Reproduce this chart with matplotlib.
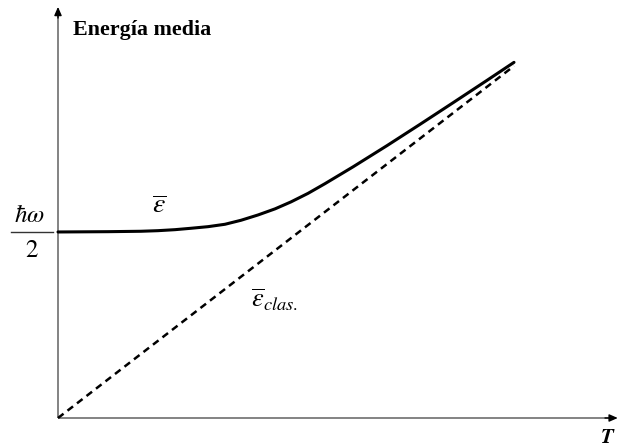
import matplotlib
matplotlib.use("Agg")
import matplotlib.pyplot as plt

plt.rcParams['mathtext.fontset'] = 'stix'
plt.rcParams['font.family'] = ['Liberation Serif', 'DejaVu Serif']

# Temperature (units where the classical energy equals kT) and mean energy
# (units of hbar*omega/2) along the quantum curve
temperature = [0.0, 0.2075, 0.3445, 0.415, 0.4856, 0.552, 0.6225, 0.693, 0.7595,
               0.830, 0.9006, 0.967, 1.0375, 1.108, 1.2243, 1.3654, 1.5023,
               1.6393, 1.7804, 1.8924]
mean_energy = [1.0, 1.0016, 1.0038, 1.007, 1.0124, 1.0199, 1.0285, 1.0414, 1.0629,
               1.0914, 1.1242, 1.1618, 1.2075, 1.2597, 1.3500, 1.4642, 1.5785,
               1.6946, 1.8151, 1.9118]

# Classical equipartition line: energy = kT
classical_T = [0.0, 1.8924]
classical_E = [0.0, 1.8924]

fig = plt.figure(figsize=(6.18, 4.47), dpi=100)
ax = fig.add_axes([0, 0, 1, 1])
ax.set_xlim(-0.2407, 2.324)
ax.set_ylim(-0.1559, 2.247)
ax.axis('off')

# Axes with arrow heads
axis_color = '#7a7a7a'
ax.plot([0, 0], [0, 2.19], color=axis_color, lw=1.3, solid_capstyle='butt')
ax.plot([0, 2.30], [0, 0], color=axis_color, lw=1.3, solid_capstyle='butt')
ax.annotate('', xy=(0, 2.21), xytext=(0, 2.15),
            arrowprops=dict(arrowstyle='-|>,head_length=0.5,head_width=0.22',
                            color='black', lw=1.0, shrinkA=0, shrinkB=0))
ax.annotate('', xy=(2.323, 0), xytext=(2.27, 0),
            arrowprops=dict(arrowstyle='-|>,head_length=0.5,head_width=0.22',
                            color='black', lw=1.0, shrinkA=0, shrinkB=0))

# Curves
ax.plot(classical_T, classical_E, color='black', lw=1.8, ls=(0, (2.8, 2.0)))
ax.plot(temperature, mean_energy, color='black', lw=2.2,
        solid_capstyle='round', solid_joinstyle='round')

# Labels
ax.text(0.062, 2.06, 'Energía media', fontsize=15.8, fontweight='bold',
        ha='left', va='baseline')
ax.text(2.282, -0.135, r'$\boldsymbol{T}$', fontsize=15, ha='center', va='baseline')

# hbar*omega / 2 fraction on the energy axis
ax.text(-0.117, 1.055, r'$\hbar\omega$', fontsize=18, ha='center', va='baseline')
ax.plot([-0.195, -0.021], [1.0, 1.0], color='#333333', lw=1.0)
ax.text(-0.108, 0.865, r'$2$', fontsize=18, ha='center', va='baseline')

ax.text(0.419, 1.10, r'$\overline{\varepsilon}$', fontsize=20, ha='center', va='baseline')
ax.text(0.80, 0.595, r'$\overline{\varepsilon}_{clas.}$', fontsize=19, ha='left', va='baseline')

fig.savefig('out.png', dpi=100)
